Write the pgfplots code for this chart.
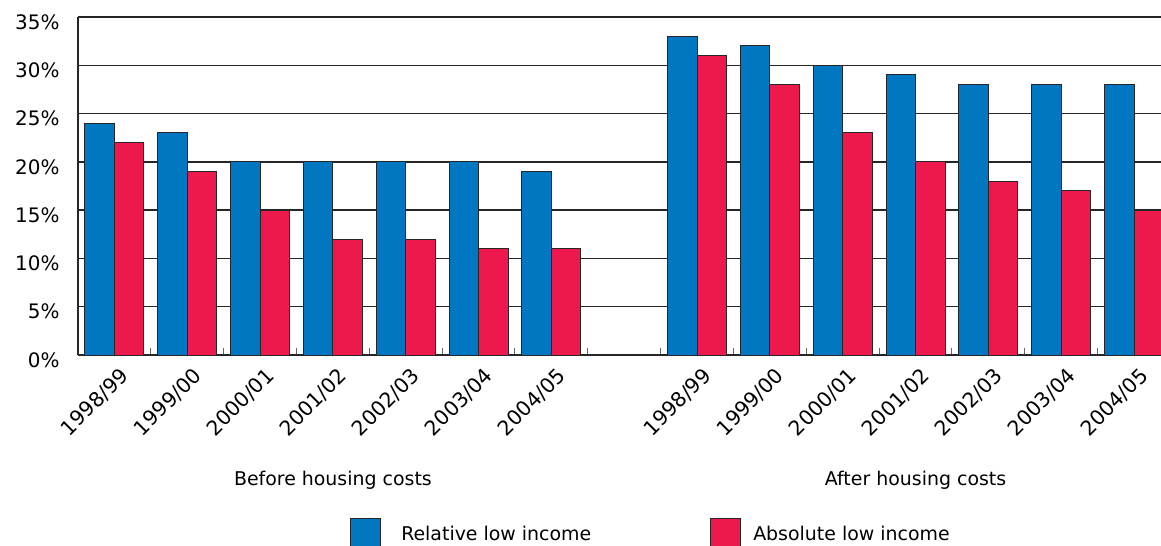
\documentclass[border=0pt]{standalone}
\usepackage{pgfplots}
\usepackage{pgfplotstable}
\pgfplotsset{compat=1.18}
\usepackage{fontspec}
\setmainfont{DejaVu Sans}
\definecolor{relblue}{RGB}{0,119,192}
\definecolor{absred}{RGB}{237,25,77}

% slot 7 is the empty gap between the two groups
\pgfplotstableread{
x  rel abs
0  24  22
1  23  19
2  20  15
3  20  12
4  20  12
5  20  11
6  19  11
8  33  31
9  32  28
10 30  23
11 29  20
12 28  18
13 28  17
14 28  15
}\lowincome

\begin{document}
\begin{tikzpicture}[font=\fontsize{19}{23}\selectfont]
\begin{axis}[
    scale only axis,
    width=1083bp, height=338bp,
    xmin=-0.5, xmax=14.37,
    ymin=0, ymax=35,
    clip=false,
    axis lines=left,
    axis line style={-, line width=1.5bp, black!85},
    ybar=0pt, bar width=0.405,
    ytick={0,5,...,35},
    yticklabel={\pgfmathprintnumber{\tick}\%},
    yticklabel style={yshift=-5bp, xshift=-15bp, font=\fontsize{20}{24}\selectfont},
    ytick style={draw=none},
    ymajorgrids,
    grid style={black!85, line width=1.3bp},
    xtick={0,1,2,3,4,5,6,8,9,10,11,12,13,14},
    xticklabels={1998/99,1999/00,2000/01,2001/02,2002/03,2003/04,2004/05,
                 1998/99,1999/00,2000/01,2001/02,2002/03,2003/04,2004/05},
    xticklabel style={xshift=13bp, yshift=-15bp, rotate=45, anchor=east,
        font=\fontsize{20.5}{24}\selectfont},
    major x tick style={draw=none},
    minor xtick={0.5,1.5,...,13.5},
    minor x tick style={draw=black!60, line width=1bp},
    minor tick length=7bp,
    tick align=inside,
    /pgf/number format/assume math mode=true,
    every axis plot/.append style={draw=black!85, line width=1bp},
    legend columns=2,
    legend style={draw=none, fill=none, inner sep=0pt,
        at={(axis description cs:0.2512,-0.482)}, anchor=north west,
        /tikz/every even column/.append style={column sep=119bp},
        nodes={inner sep=0pt, text depth=0pt}},
    legend cell align=left,
    legend image code/.code={\draw[#1] (0bp,-15bp) rectangle (30bp,15bp);},
]
\addplot[fill=relblue] table[x=x, y=rel] {\lowincome};
\addplot[fill=absred] table[x=x, y=abs] {\lowincome};
\legend{\hspace{20bp}Relative low income, \hspace{12bp}Absolute low income}
\node at (axis cs:3,0) [yshift=-125bp] {Before housing costs};
\node at (axis cs:11,0) [yshift=-125bp] {After housing costs};
\end{axis}
\pgfresetboundingbox
\path[use as bounding box] (-78bp,-191bp) rectangle (1083bp,355bp);
\end{tikzpicture}
\end{document}
